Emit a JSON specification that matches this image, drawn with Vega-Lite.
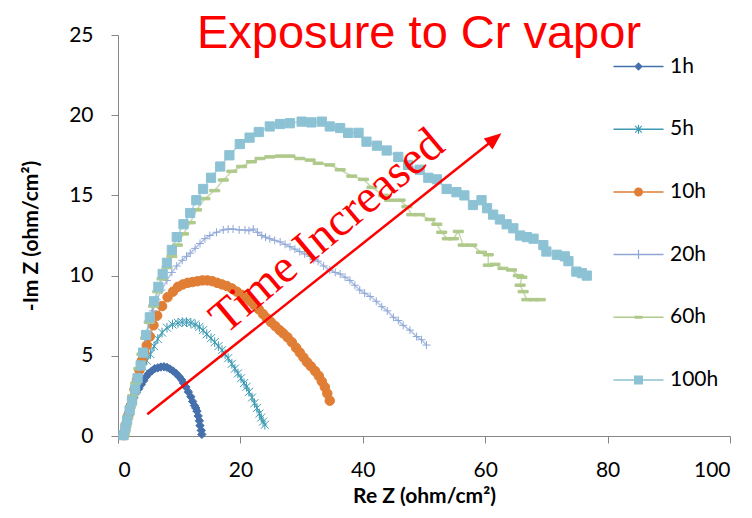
{
  "$schema": "https://vega.github.io/schema/vega-lite/v6.json",
  "width": 612,
  "height": 401,
  "autosize": {"type": "none"},
  "padding": {"left": 118, "top": 35, "right": 22, "bottom": 82},
  "background": "white",
  "title": {"text": "Exposure to Cr vapor", "color": "#FF0000", "font": "Liberation Sans", "fontSize": 47, "fontWeight": "normal", "anchor": "middle", "frame": "group", "offset": -34, "dx": -5},
  "config": {
    "view": {"stroke": null},
    "axis": {"grid": false, "domainColor": "#868686", "tickColor": "#868686", "tickSize": 7, "labelFont": "Lato", "labelFontSize": 21, "labelColor": "#000000", "titleFont": "Lato", "titleFontSize": 21, "titleFontWeight": "bold", "titleColor": "#000000"}
  },
  "data": {"values": [
    {"series":"1h","re":0.9,"im":0.05},{"series":"1h","re":1.0,"im":0.3},{"series":"1h","re":1.2,"im":0.6},{"series":"1h","re":1.4,"im":0.9},{"series":"1h","re":1.6,"im":1.2},{"series":"1h","re":1.8,"im":1.5},{"series":"1h","re":2.0,"im":1.8},{"series":"1h","re":2.3,"im":2.1},{"series":"1h","re":2.6,"im":2.4},{"series":"1h","re":3.0,"im":2.7},{"series":"1h","re":3.4,"im":2.95},{"series":"1h","re":3.8,"im":3.2},{"series":"1h","re":4.2,"im":3.45},{"series":"1h","re":4.6,"im":3.7},{"series":"1h","re":5.0,"im":3.9},{"series":"1h","re":5.5,"im":4.05},{"series":"1h","re":6.0,"im":4.2},{"series":"1h","re":6.5,"im":4.25},{"series":"1h","re":7.0,"im":4.3},{"series":"1h","re":7.5,"im":4.32},{"series":"1h","re":8.0,"im":4.28},{"series":"1h","re":8.5,"im":4.18},{"series":"1h","re":9.0,"im":4.05},{"series":"1h","re":9.5,"im":3.9},{"series":"1h","re":10.0,"im":3.7},{"series":"1h","re":10.4,"im":3.5},{"series":"1h","re":10.7,"im":3.3},{"series":"1h","re":11.1,"im":3.05},{"series":"1h","re":11.5,"im":2.75},{"series":"1h","re":11.9,"im":2.45},{"series":"1h","re":12.2,"im":2.15},{"series":"1h","re":12.5,"im":1.9},{"series":"1h","re":12.7,"im":1.75},{"series":"1h","re":12.9,"im":1.55},{"series":"1h","re":13.1,"im":1.25},{"series":"1h","re":13.3,"im":0.95},{"series":"1h","re":13.4,"im":0.65},{"series":"1h","re":13.6,"im":0.35},{"series":"1h","re":13.7,"im":0.1},
    {"series":"5h","re":1.0,"im":0.05},{"series":"5h","re":1.2,"im":0.4},{"series":"5h","re":1.4,"im":0.8},{"series":"5h","re":1.7,"im":1.3},{"series":"5h","re":2.0,"im":1.8},{"series":"5h","re":2.3,"im":2.3},{"series":"5h","re":2.7,"im":2.9},{"series":"5h","re":3.1,"im":3.4},{"series":"5h","re":3.6,"im":3.9},{"series":"5h","re":4.1,"im":4.3},{"series":"5h","re":4.7,"im":4.7},{"series":"5h","re":5.3,"im":5.1},{"series":"5h","re":5.9,"im":5.6},{"series":"5h","re":6.5,"im":6.05},{"series":"5h","re":7.2,"im":6.45},{"series":"5h","re":8.0,"im":6.75},{"series":"5h","re":8.9,"im":6.95},{"series":"5h","re":9.8,"im":7.05},{"series":"5h","re":10.5,"im":7.1},{"series":"5h","re":11.2,"im":7.1},{"series":"5h","re":11.9,"im":7.05},{"series":"5h","re":12.6,"im":6.95},{"series":"5h","re":13.3,"im":6.8},{"series":"5h","re":13.9,"im":6.6},{"series":"5h","re":14.5,"im":6.35},{"series":"5h","re":15.2,"im":6.1},{"series":"5h","re":15.8,"im":5.85},{"series":"5h","re":16.4,"im":5.6},{"series":"5h","re":17.0,"im":5.35},{"series":"5h","re":17.5,"im":5.1},{"series":"5h","re":18.0,"im":4.85},{"series":"5h","re":18.6,"im":4.5},{"series":"5h","re":19.1,"im":4.2},{"series":"5h","re":19.6,"im":3.9},{"series":"5h","re":20.1,"im":3.6},{"series":"5h","re":20.6,"im":3.3},{"series":"5h","re":21.0,"im":3.07},{"series":"5h","re":21.4,"im":2.75},{"series":"5h","re":21.9,"im":2.4},{"series":"5h","re":22.3,"im":2.05},{"series":"5h","re":22.7,"im":1.75},{"series":"5h","re":23.1,"im":1.4},{"series":"5h","re":23.4,"im":1.15},{"series":"5h","re":23.7,"im":0.9},{"series":"5h","re":24.0,"im":0.7},
    {"series":"10h","re":1.0,"im":0.05},{"series":"10h","re":1.2,"im":0.4},{"series":"10h","re":1.4,"im":0.8},{"series":"10h","re":1.7,"im":1.3},{"series":"10h","re":2.0,"im":1.8},{"series":"10h","re":2.3,"im":2.3},{"series":"10h","re":2.7,"im":2.9},{"series":"10h","re":3.1,"im":3.5},{"series":"10h","re":3.5,"im":4.1},{"series":"10h","re":3.9,"im":4.7},{"series":"10h","re":4.3,"im":5.2},{"series":"10h","re":4.7,"im":5.65},{"series":"10h","re":5.2,"im":6.2},{"series":"10h","re":5.8,"im":6.9},{"series":"10h","re":6.4,"im":7.5},{"series":"10h","re":7.2,"im":8.1},{"series":"10h","re":8.1,"im":8.65},{"series":"10h","re":9.0,"im":9.0},{"series":"10h","re":9.8,"im":9.3},{"series":"10h","re":10.6,"im":9.45},{"series":"10h","re":11.4,"im":9.55},{"series":"10h","re":12.2,"im":9.6},{"series":"10h","re":13.0,"im":9.65},{"series":"10h","re":13.8,"im":9.7},{"series":"10h","re":14.6,"im":9.7},{"series":"10h","re":15.4,"im":9.65},{"series":"10h","re":16.2,"im":9.55},{"series":"10h","re":17.0,"im":9.45},{"series":"10h","re":17.8,"im":9.35},{"series":"10h","re":18.6,"im":9.2},{"series":"10h","re":19.4,"im":9.0},{"series":"10h","re":20.2,"im":8.8},{"series":"10h","re":20.9,"im":8.6},{"series":"10h","re":21.6,"im":8.4},{"series":"10h","re":22.3,"im":8.15},{"series":"10h","re":23.0,"im":7.9},{"series":"10h","re":23.7,"im":7.6},{"series":"10h","re":24.3,"im":7.35},{"series":"10h","re":25.0,"im":7.1},{"series":"10h","re":25.7,"im":6.85},{"series":"10h","re":26.4,"im":6.6},{"series":"10h","re":27.0,"im":6.4},{"series":"10h","re":27.7,"im":6.15},{"series":"10h","re":28.4,"im":5.85},{"series":"10h","re":29.1,"im":5.5},{"series":"10h","re":29.7,"im":5.2},{"series":"10h","re":30.3,"im":4.9},{"series":"10h","re":30.9,"im":4.6},{"series":"10h","re":31.5,"im":4.35},{"series":"10h","re":32.2,"im":4.05},{"series":"10h","re":32.8,"im":3.75},{"series":"10h","re":33.3,"im":3.4},{"series":"10h","re":33.8,"im":3.05},{"series":"10h","re":34.2,"im":2.65},{"series":"10h","re":34.6,"im":2.2},
    {"series":"20h","re":1.0,"im":0.05},{"series":"20h","re":1.3,"im":0.6},{"series":"20h","re":1.6,"im":1.1},{"series":"20h","re":2.0,"im":1.8},{"series":"20h","re":2.4,"im":2.5},{"series":"20h","re":2.9,"im":3.3},{"series":"20h","re":3.4,"im":4.2},{"series":"20h","re":3.9,"im":5.1},{"series":"20h","re":4.5,"im":6.1},{"series":"20h","re":5.1,"im":7.0},{"series":"20h","re":5.7,"im":7.8},{"series":"20h","re":6.3,"im":8.5},{"series":"20h","re":7.1,"im":9.1},{"series":"20h","re":8.0,"im":9.7},{"series":"20h","re":8.8,"im":10.2},{"series":"20h","re":9.6,"im":10.6},{"series":"20h","re":10.5,"im":10.95},{"series":"20h","re":11.2,"im":11.2},{"series":"20h","re":11.8,"im":11.4},{"series":"20h","re":12.6,"im":11.7},{"series":"20h","re":13.4,"im":12.0},{"series":"20h","re":14.2,"im":12.3},{"series":"20h","re":15.0,"im":12.5},{"series":"20h","re":16.1,"im":12.7},{"series":"20h","re":17.2,"im":12.85},{"series":"20h","re":18.0,"im":12.9},{"series":"20h","re":18.8,"im":12.9},{"series":"20h","re":19.8,"im":12.85},{"series":"20h","re":20.75,"im":12.85},{"series":"20h","re":21.4,"im":12.8},{"series":"20h","re":22.1,"im":12.9},{"series":"20h","re":22.8,"im":12.7},{"series":"20h","re":23.5,"im":12.5},{"series":"20h","re":24.1,"im":12.4},{"series":"20h","re":24.8,"im":12.3},{"series":"20h","re":25.6,"im":12.2},{"series":"20h","re":26.5,"im":12.1},{"series":"20h","re":27.3,"im":11.95},{"series":"20h","re":28.1,"im":11.8},{"series":"20h","re":28.9,"im":11.65},{"series":"20h","re":29.7,"im":11.5},{"series":"20h","re":30.5,"im":11.35},{"series":"20h","re":31.4,"im":11.2},{"series":"20h","re":32.0,"im":11.0},{"series":"20h","re":32.7,"im":10.9},{"series":"20h","re":33.6,"im":10.6},{"series":"20h","re":34.6,"im":10.35},{"series":"20h","re":35.5,"im":10.2},{"series":"20h","re":36.3,"im":10.1},{"series":"20h","re":37.1,"im":9.9},{"series":"20h","re":37.9,"im":9.7},{"series":"20h","re":38.7,"im":9.4},{"series":"20h","re":39.5,"im":9.1},{"series":"20h","re":40.3,"im":8.9},{"series":"20h","re":41.2,"im":8.7},{"series":"20h","re":42.2,"im":8.4},{"series":"20h","re":43.1,"im":8.06},{"series":"20h","re":44.0,"im":7.8},{"series":"20h","re":45.0,"im":7.4},{"series":"20h","re":45.8,"im":7.2},{"series":"20h","re":46.6,"im":6.9},{"series":"20h","re":47.7,"im":6.6},{"series":"20h","re":48.8,"im":6.2},{"series":"20h","re":49.6,"im":6.0},{"series":"20h","re":50.4,"im":5.67},
    {"series":"60h","re":1.0,"im":0.05},{"series":"60h","re":1.3,"im":0.6},{"series":"60h","re":1.6,"im":1.1},{"series":"60h","re":2.0,"im":1.8},{"series":"60h","re":2.4,"im":2.5},{"series":"60h","re":2.9,"im":3.3},{"series":"60h","re":3.4,"im":4.2},{"series":"60h","re":3.9,"im":5.1},{"series":"60h","re":4.5,"im":6.1},{"series":"60h","re":5.1,"im":7.1},{"series":"60h","re":5.8,"im":8.1},{"series":"60h","re":6.5,"im":9.0},{"series":"60h","re":7.2,"im":9.8},{"series":"60h","re":8.0,"im":10.5},{"series":"60h","re":8.8,"im":11.2},{"series":"60h","re":9.7,"im":11.9},{"series":"60h","re":10.7,"im":12.6},{"series":"60h","re":11.8,"im":13.3},{"series":"60h","re":12.85,"im":14.1},{"series":"60h","re":14.2,"im":14.8},{"series":"60h","re":15.8,"im":15.3},{"series":"60h","re":17.2,"im":15.96},{"series":"60h","re":18.6,"im":16.5},{"series":"60h","re":20.2,"im":16.8},{"series":"60h","re":21.8,"im":17.1},{"series":"60h","re":23.2,"im":17.3},{"series":"60h","re":24.8,"im":17.4},{"series":"60h","re":26.5,"im":17.45},{"series":"60h","re":28.1,"im":17.45},{"series":"60h","re":29.7,"im":17.3},{"series":"60h","re":31.4,"im":17.2},{"series":"60h","re":32.7,"im":17.0},{"series":"60h","re":34.6,"im":16.9},{"series":"60h","re":36.3,"im":16.6},{"series":"60h","re":38.2,"im":16.2},{"series":"60h","re":40.1,"im":16.0},{"series":"60h","re":41.5,"im":15.5},{"series":"60h","re":43.4,"im":15.0},{"series":"60h","re":44.4,"im":14.7},{"series":"60h","re":46.1,"im":14.7},{"series":"60h","re":47.2,"im":14.3},{"series":"60h","re":48.0,"im":13.8},{"series":"60h","re":49.3,"im":13.8},{"series":"60h","re":51.0,"im":13.5},{"series":"60h","re":52.1,"im":13.2},{"series":"60h","re":52.9,"im":12.7},{"series":"60h","re":53.8,"im":12.3},{"series":"60h","re":54.8,"im":12.3},{"series":"60h","re":55.6,"im":12.75},{"series":"60h","re":56.4,"im":11.9},{"series":"60h","re":57.8,"im":11.9},{"series":"60h","re":59.4,"im":11.45},{"series":"60h","re":60.5,"im":11.3},{"series":"60h","re":60.5,"im":10.65},{"series":"60h","re":61.6,"im":10.7},{"series":"60h","re":62.9,"im":10.45},{"series":"60h","re":64.3,"im":10.35},{"series":"60h","re":65.4,"im":10.0},{"series":"60h","re":66.0,"im":9.9},{"series":"60h","re":65.7,"im":9.4},{"series":"60h","re":66.2,"im":9.0},{"series":"60h","re":66.8,"im":8.5},{"series":"60h","re":68.0,"im":8.5},{"series":"60h","re":69.0,"im":8.5},
    {"series":"100h","re":0.9,"im":0.05},{"series":"100h","re":1.2,"im":0.5},{"series":"100h","re":1.5,"im":1.0},{"series":"100h","re":1.9,"im":1.6},{"series":"100h","re":2.3,"im":2.2},{"series":"100h","re":2.8,"im":2.9},{"series":"100h","re":3.2,"im":3.6},{"series":"100h","re":3.7,"im":4.4},{"series":"100h","re":4.1,"im":5.2},{"series":"100h","re":4.6,"im":6.3},{"series":"100h","re":5.2,"im":7.4},{"series":"100h","re":5.9,"im":8.4},{"series":"100h","re":6.6,"im":9.3},{"series":"100h","re":7.3,"im":10.1},{"series":"100h","re":8.0,"im":10.8},{"series":"100h","re":8.8,"im":11.6},{"series":"100h","re":9.6,"im":12.4},{"series":"100h","re":10.7,"im":13.2},{"series":"100h","re":11.8,"im":13.9},{"series":"100h","re":12.8,"im":14.7},{"series":"100h","re":13.9,"im":15.4},{"series":"100h","re":15.2,"im":16.1},{"series":"100h","re":16.7,"im":16.8},{"series":"100h","re":18.2,"im":17.5},{"series":"100h","re":19.9,"im":18.2},{"series":"100h","re":21.5,"im":18.6},{"series":"100h","re":23.0,"im":18.95},{"series":"100h","re":24.8,"im":19.3},{"series":"100h","re":26.5,"im":19.45},{"series":"100h","re":28.1,"im":19.5},{"series":"100h","re":30.0,"im":19.6},{"series":"100h","re":31.6,"im":19.55},{"series":"100h","re":33.3,"im":19.6},{"series":"100h","re":34.6,"im":19.3},{"series":"100h","re":36.3,"im":19.2},{"series":"100h","re":37.6,"im":18.9},{"series":"100h","re":39.3,"im":18.9},{"series":"100h","re":40.6,"im":18.35},{"series":"100h","re":42.3,"im":18.1},{"series":"100h","re":43.9,"im":17.8},{"series":"100h","re":45.8,"im":17.4},{"series":"100h","re":47.4,"im":16.9},{"series":"100h","re":49.3,"im":16.6},{"series":"100h","re":50.7,"im":16.1},{"series":"100h","re":52.1,"im":16.0},{"series":"100h","re":53.7,"im":15.4},{"series":"100h","re":55.3,"im":15.2},{"series":"100h","re":56.6,"im":15.0},{"series":"100h","re":58.0,"im":14.4},{"series":"100h","re":59.4,"im":14.7},{"series":"100h","re":60.3,"im":14.2},{"series":"100h","re":61.3,"im":13.8},{"series":"100h","re":62.4,"im":13.5},{"series":"100h","re":63.5,"im":13.2},{"series":"100h","re":64.6,"im":12.95},{"series":"100h","re":65.7,"im":12.5},{"series":"100h","re":66.8,"im":12.4},{"series":"100h","re":67.9,"im":12.3},{"series":"100h","re":69.5,"im":11.9},{"series":"100h","re":70.0,"im":11.5},{"series":"100h","re":71.7,"im":11.3},{"series":"100h","re":73.0,"im":11.2},{"series":"100h","re":73.6,"im":10.9},{"series":"100h","re":74.9,"im":10.25},{"series":"100h","re":75.8,"im":10.15},{"series":"100h","re":76.6,"im":10.0}
  ]},
  "layer": [
    {
      "mark": {"type": "point", "filled": true, "opacity": 0, "size": 100},
      "encoding": {
        "x": {"field": "re", "type": "quantitative", "scale": {"domain": [0, 100], "nice": false}, "axis": {"title": "Re Z (ohm/cm²)", "values": [0, 20, 40, 60, 80, 100], "labelPadding": 16, "titlePadding": 5}},
        "y": {"field": "im", "type": "quantitative", "scale": {"domain": [0, 25], "nice": false}, "axis": {"title": "-Im Z (ohm/cm²)", "values": [0, 5, 10, 15, 20, 25], "labelPadding": 18, "titlePadding": 27}},
        "color": {"field": "series", "type": "nominal", "scale": {"domain": ["1h", "5h", "10h", "20h", "60h", "100h"], "range": ["#4670AB", "#3C9AB2", "#E07E35", "#8EA7D6", "#AFC98B", "#8CC2D4"]},
          "legend": {"title": null, "orient": "none", "legendX": 510, "legendY": 21, "padding": 0, "symbolSize": 100, "symbolOpacity": 1, "symbolStrokeWidth": 0, "labelOffset": 21, "rowPadding": 40.7, "labelFont": "Lato", "labelFontSize": 21, "labelColor": "#000000"}},
        "shape": {"field": "series", "type": "nominal", "scale": {"domain": ["1h", "5h", "10h", "20h", "60h", "100h"], "range": [
          "M-5,-0.15H5V0.15H-5ZM0,-0.85L0.85,0L0,0.85L-0.85,0Z",
          "M-5,-0.15H5V0.15H-5ZM-0.75,-0.6L-0.6,-0.75L0.75,0.6L0.6,0.75ZM-0.75,0.6L0.6,-0.75L0.75,-0.6L-0.6,0.75ZM-0.12,-0.9H0.12V0.9H-0.12Z",
          "M-5,-0.15H5V0.15H-5ZM0.9,0A0.9,0.9,0,1,1,-0.9,0A0.9,0.9,0,1,1,0.9,0Z",
          "M-5,-0.15H5V0.15H-5ZM-0.12,-0.9H0.12V0.9H-0.12Z",
          "M-5,-0.15H5V0.15H-5ZM-0.8,-0.3H0.8V0.3H-0.8Z",
          "M-5,-0.15H5V0.15H-5ZM-0.9,-0.9H0.9V0.9H-0.9Z"]},
          "legend": {"title": null, "orient": "none", "legendX": 510, "legendY": 21, "padding": 0, "symbolSize": 100, "symbolOpacity": 1, "symbolStrokeWidth": 0, "labelOffset": 21, "rowPadding": 40.7, "labelFont": "Lato", "labelFontSize": 21, "labelColor": "#000000"}}
      }
    },
    {
      "mark": {"type": "line", "strokeWidth": 1.5, "opacity": 0.7},
      "encoding": {
        "x": {"field": "re", "type": "quantitative"},
        "y": {"field": "im", "type": "quantitative"},
        "color": {"field": "series", "type": "nominal", "legend": null},
        "order": {"value": null}
      }
    },
    {
      "mark": {"type": "point", "filled": true, "strokeWidth": 1, "opacity": 1,
        "fill": {"expr": "scale('color', datum.series)"},
        "stroke": {"expr": "scale('color', datum.series)"},
        "shape": {"expr": "datum.series === '1h' ? 'diamond' : datum.series === '5h' ? 'M-1,-1L1,1M-1,1L1,-1M0,-1.2V1.2' : datum.series === '10h' ? 'circle' : datum.series === '20h' ? 'M-1,0H1M0,-1V1' : datum.series === '60h' ? 'M-1,-0.25H1V0.25H-1Z' : 'square'"},
        "size": {"expr": "datum.series === '1h' ? 70 : datum.series === '5h' ? 64 : datum.series === '10h' ? 90 : datum.series === '20h' ? 64 : datum.series === '60h' ? 100 : 85"}
      },
      "encoding": {
        "x": {"field": "re", "type": "quantitative"},
        "y": {"field": "im", "type": "quantitative"}
      }
    },
    {
      "data": {"values": [{}]},
      "mark": {"type": "rule", "color": "#FF0000", "strokeWidth": 2.5},
      "encoding": {"x": {"datum": 4.79}, "y": {"datum": 1.35}, "x2": {"datum": 61.4}, "y2": {"datum": 18.48}}
    },
    {
      "data": {"values": [{}]},
      "mark": {"type": "point", "shape": "M0,-1L0.7,0.7L-0.7,0.7Z", "size": 400, "angle": 51.6, "filled": true, "color": "#FF0000", "opacity": 1},
      "encoding": {"x": {"datum": 61.38}, "y": {"datum": 18.48}}
    },
    {
      "data": {"values": [{}]},
      "mark": {"type": "text", "text": "Time Increased", "font": "Liberation Serif", "fontSize": 47, "angle": -40, "color": "#FF0000", "align": "center", "baseline": "middle"},
      "encoding": {"x": {"datum": 34.2}, "y": {"datum": 12.75}}
    }
  ]
}
